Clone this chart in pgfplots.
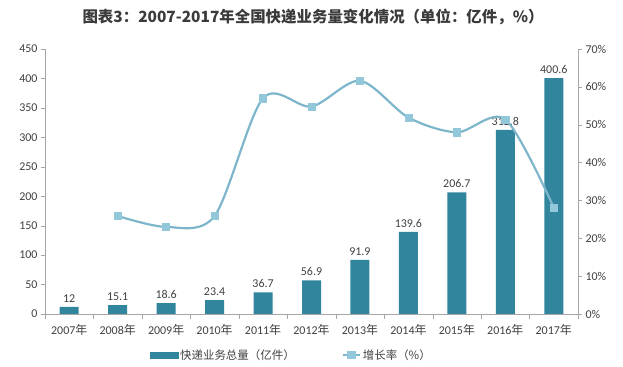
\documentclass[border=0pt]{standalone}
\usepackage{pgfplots}
\pgfplotsset{compat=1.18}
\usepackage{fontspec}
\setmainfont{Carlito}
\newfontfamily\cjk{Noto Sans CJK SC}
\definecolor{barc}{HTML}{31859C}
\definecolor{linec}{HTML}{7DB5CA}
\definecolor{markc}{HTML}{93C8DB}
\definecolor{axc}{HTML}{A6A6A6}
\definecolor{txt}{HTML}{404040}
\newcommand\nian{{\cjk 年}}
\pgfplotsset{/pgf/number format/assume math mode=true}
\begin{document}
\begin{tikzpicture}
\path[use as bounding box] (0,0) rectangle (623bp,367bp);
\node[text=txt!90!black, font=\cjk\bfseries\fontsize{15.5}{18}\selectfont] at (313bp,350bp) {图表3：2007-2017年全国快递业务量变化情况（单位：亿件，\%）};
\begin{axis}[
  at={(45bp,53bp)}, anchor=south west,
  width=533bp, height=265bp, scale only axis,
  xmin=-0.5, xmax=10.5, ymin=0, ymax=450,
  ytick={0,50,...,450},
  xtick={0,...,10},
  xticklabels={2007\nian,2008\nian,2009\nian,2010\nian,2011\nian,2012\nian,2013\nian,2014\nian,2015\nian,2016\nian,2017\nian},
  minor xtick={-0.5,0.5,...,10.5},
  major x tick style={draw=none},
  minor x tick style={draw=axc},
  minor tick length=5bp,
  major tick length=4bp,
  tick align=outside,
  axis x line*=bottom, axis y line*=left,
  axis line style={draw=axc, line width=0.8pt, -},
  ytick style={draw=axc},
  tick label style={text=txt, font=\fontsize{12}{13}\selectfont},
  xticklabel style={yshift=-3bp},
  ybar, bar width=19bp,
  nodes near coords,
  every node near coord/.append style={text=txt, font=\fontsize{12}{13}\selectfont, yshift=1bp},
]
\addplot[fill=barc, draw=none] coordinates {(0,12) (1,15.1) (2,18.6) (3,23.4) (4,36.7) (5,56.9) (6,91.9) (7,139.6) (8,206.7) (9,312.8) (10,400.6)};
\end{axis}
\begin{axis}[
  at={(45bp,53bp)}, anchor=south west,
  width=533bp, height=265bp, scale only axis,
  xmin=-0.5, xmax=10.5, ymin=0, ymax=70,
  ytick={0,10,...,70},
  yticklabel={\pgfmathprintnumber{\tick}\%},
  axis x line=none, axis y line*=right,
  axis line style={draw=axc, line width=0.8pt, -},
  ytick style={draw=axc},
  major tick length=4bp,
  tick align=outside,
  tick label style={text=txt, font=\fontsize{12}{13}\selectfont},
  legend style={at={(0.462,-0.155)}, anchor=center, draw=none, fill=none,
    font=\cjk\fontsize{11.5}{13}\selectfont, text=txt, legend columns=2,
    /tikz/every even column/.append style={column sep=45bp}},
]
\addlegendimage{legend image code/.code={\fill[barc] (-4bp,-3bp) rectangle (24bp,3bp);}}
\addlegendentry{快递业务总量（亿件）}
\addplot[color=linec, line width=2.2pt, smooth, tension=0.5, mark=square*, mark size=3.6bp,
  mark options={fill=markc, draw=markc, line width=0.5pt}] coordinates {(1,25.9) (2,23) (3,25.9) (4,57) (5,54.8) (6,61.6) (7,51.9) (8,48) (9,51.4) (10,28.1)};
\addlegendentry{增长率（\%）}
\end{axis}
\end{tikzpicture}
\end{document}
